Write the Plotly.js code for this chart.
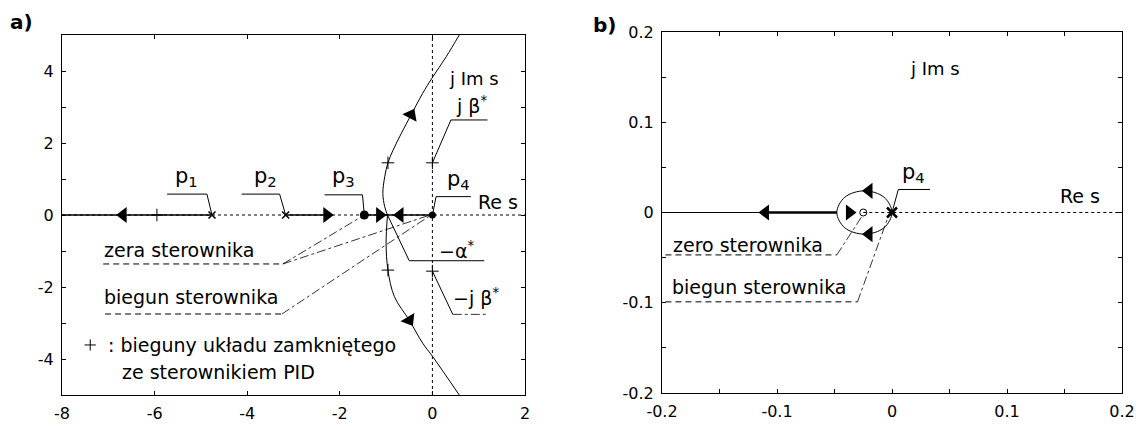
<!DOCTYPE html>
<html><head><meta charset="utf-8">
<script src="https://cdn.plot.ly/plotly-3.0.1.min.js"></script>
<style>html,body{margin:0;padding:0;background:#fff}#chart{width:1140px;height:426px}</style>
</head><body><div id="chart"></div>
<script>
// ---------- Panel a) data (read from picture) ----------
const axisA_x = [-8, 2];
const locusA_seg1_x = [-8, -4.76];
const locusA_seg2_x = [-3.17, -2.2];
const locusA_seg3_x = [-1.47, 0];
const upper_x = [-0.97, -1.03, -1.07, -1.03, -0.96, -0.85, -0.67, -0.46, -0.21, -0.01, 0.30, 0.58];
const upper_y = [0, 0.23, 0.6, 1.06, 1.45, 1.8, 2.27, 2.78, 3.38, 3.8, 4.4, 5.0];
const lower_x = [-0.97, -1.0, -0.96, -0.82, -0.5, -0.21, 0.01, 0.58];
const lower_y = [0, -0.79, -1.53, -2.27, -2.92, -3.56, -3.94, -5.0];
const openPolesA_x = [-4.76, -3.17];          // p1, p2
const p3_x = [-1.47];
const p4A_x = [0];
const clPoles_x = [-5.95, -0.96, -0.96, 0, 0];  // closed-loop poles (+)
const clPoles_y = [0, 1.45, -1.53, 1.45, -1.56];
const arrowsRealA_x = [-6.68, -2.28, -1.14, -0.70];
const arrowsRealA_sym = ['triangle-left', 'triangle-right', 'triangle-right', 'triangle-left'];
const arrowsCurveA_x = [-0.46, -0.50];
const arrowsCurveA_y = [2.78, -2.92];
const arrowsCurveA_sym = ['triangle-up', 'triangle-down'];
const arrowsCurveA_ang = [28, -31];
// leaders (panel a)
const leadSolidA_x = [-5.73, -4.87, -4.76, null, -4.12, -3.3, -3.17, null, -2.33, -1.51, -1.47, null,
                      0, 0.08, 0.83, null, 0, 0.40, 1.19, null, -0.97, -0.5, 1.12, null, 0, 0.44];
const leadSolidA_y = [0.58, 0.58, 0, null, 0.58, 0.58, 0, null, 0.56, 0.56, 0, null,
                      0, 0.51, 0.51, null, 1.45, 2.64, 2.64, null, 0, -1.27, -1.27, null, -1.56, -2.76];
const leadDashA_x = [-7.11, -3.23, null, -7.07, -3.25];
const leadDashA_y = [-1.36, -1.36, null, -2.75, -2.75];
const leadDashDotA_x = [-3.23, -1.47, null, -3.23, -0.05, null, -3.25, -0.03, null, 0.44, 1.19];
const leadDashDotA_y = [-1.36, 0, null, -1.36, 0, null, -2.75, 0, null, -2.76, -2.76];
const legendPlusA_x = [-7.39];
const legendPlusA_y = [-3.61];

// ---------- Panel b) data ----------
const axisB_x = [-0.025, 0.2];
const locusB_thin_x = [-0.2, -0.048];
const locusB_thick_x = [-0.11, -0.048];
const circle_x = [0, -0.007, -0.024, -0.041, -0.048, -0.041, -0.024, -0.007, 0];
const circle_y = [0, 0.017, 0.024, 0.017, 0, -0.017, -0.024, -0.017, 0];
const zeroB_x = [-0.025];
const p4B_x = [0];
const arrowsB_x = [-0.11, -0.037, -0.02, -0.02];
const arrowsB_y = [0, 0, 0.024, -0.024];
const arrowsB_sym = ['triangle-left', 'triangle-right', 'triangle-left', 'triangle-left'];
const leadSolidB_x = [0, 0.0055, 0.033];
const leadSolidB_y = [0, 0.0255, 0.0255];
const leadDashB_x = [-0.197, -0.048, null, -0.197, -0.03];
const leadDashB_y = [-0.047, -0.047, null, -0.099, -0.099];
const leadDashDotB_x = [-0.048, -0.026, null, -0.03, -0.002];
const leadDashDotB_y = [-0.047, -0.004, null, -0.099, 0];

// tick labels
const tickA_x = [-8, -6, -4, -2, 0, 2];
const tickA_xt = ['-8', '-6', '-4', '-2', '0', '2'];
const tickA_y = [-4, -2, 0, 2, 4];
const tickA_yt = ['-4', '-2', '0', '2', '4'];
const minorA_y = [-3, -1, 1, 3];
const tickB = [-0.2, -0.1, 0, 0.1, 0.2];
const tickB_t = ['-0.2', '-0.1', '0', '0.1', '0.2'];
const minorB = [-0.15, -0.05, 0.05, 0.15];

const F = 'DejaVu Sans, sans-serif';
const K = '#000';
const zeros = a => a.map(() => 0);

const traces = [
  // panel a
  {x: axisA_x, y: [0, 0], mode: 'lines', line: {color: K, width: 1, dash: 'dot'}},
  {x: [0, 0], y: [-5, 5], mode: 'lines', line: {color: K, width: 1, dash: 'dot'}},
  {x: locusA_seg1_x, y: zeros(locusA_seg1_x), mode: 'lines', line: {color: K, width: 1.3}},
  {x: locusA_seg2_x, y: zeros(locusA_seg2_x), mode: 'lines', line: {color: K, width: 1.3}},
  {x: locusA_seg3_x, y: zeros(locusA_seg3_x), mode: 'lines', line: {color: K, width: 1.3}},
  {x: upper_x, y: upper_y, mode: 'lines', line: {color: K, width: 1, shape: 'spline'}},
  {x: lower_x, y: lower_y, mode: 'lines', line: {color: K, width: 1, shape: 'spline'}},
  {x: leadSolidA_x, y: leadSolidA_y, mode: 'lines', line: {color: K, width: 1}},
  {x: leadDashA_x, y: leadDashA_y, mode: 'lines', line: {color: K, width: 1, dash: '6px,4px'}},
  {x: leadDashDotA_x, y: leadDashDotA_y, mode: 'lines', line: {color: K, width: 0.8, dash: 'dashdot'}},
  {x: openPolesA_x, y: zeros(openPolesA_x), mode: 'markers', marker: {symbol: 'x-thin-open', size: 7, color: K, line: {color: K, width: 1.5}}},
  {x: p3_x, y: [0], mode: 'markers', marker: {symbol: 'circle', size: 9, color: K}},
  {x: p4A_x, y: [0], mode: 'markers', marker: {symbol: 'circle', size: 7, color: K}},
  {x: clPoles_x, y: clPoles_y, mode: 'markers', marker: {symbol: 'cross-thin-open', size: 9, color: K, line: {color: K, width: 1}}},
  {x: legendPlusA_x, y: legendPlusA_y, mode: 'markers', marker: {symbol: 'cross-thin-open', size: 8, color: K, line: {color: K, width: 1}}},
  {x: arrowsRealA_x, y: zeros(arrowsRealA_x), mode: 'markers', marker: {symbol: arrowsRealA_sym, size: 14, color: K}},
  {x: arrowsCurveA_x, y: arrowsCurveA_y, mode: 'markers', marker: {symbol: arrowsCurveA_sym, angle: arrowsCurveA_ang, size: 14, color: K}},
  // panel b
  {x: axisB_x, y: [0, 0], mode: 'lines', xaxis: 'x2', yaxis: 'y2', line: {color: K, width: 1, dash: 'dot'}},
  {x: locusB_thin_x, y: zeros(locusB_thin_x), mode: 'lines', xaxis: 'x2', yaxis: 'y2', line: {color: K, width: 1}},
  {x: locusB_thick_x, y: zeros(locusB_thick_x), mode: 'lines', xaxis: 'x2', yaxis: 'y2', line: {color: K, width: 2.5}},
  {x: circle_x, y: circle_y, mode: 'lines', xaxis: 'x2', yaxis: 'y2', line: {color: K, width: 1, shape: 'spline'}},
  {x: leadSolidB_x, y: leadSolidB_y, mode: 'lines', xaxis: 'x2', yaxis: 'y2', line: {color: K, width: 1}},
  {x: leadDashB_x, y: leadDashB_y, mode: 'lines', xaxis: 'x2', yaxis: 'y2', line: {color: K, width: 1, dash: '6px,4px'}},
  {x: leadDashDotB_x, y: leadDashDotB_y, mode: 'lines', xaxis: 'x2', yaxis: 'y2', line: {color: K, width: 0.8, dash: 'dashdot'}},
  {x: zeroB_x, y: [0], mode: 'markers', xaxis: 'x2', yaxis: 'y2', marker: {symbol: 'circle-open', size: 7, color: K, line: {color: K, width: 1}}},
  {x: p4B_x, y: [0], mode: 'markers', xaxis: 'x2', yaxis: 'y2', marker: {symbol: 'x-thin-open', size: 10, color: K, line: {color: K, width: 2.5}}},
  {x: arrowsB_x, y: arrowsB_y, mode: 'markers', xaxis: 'x2', yaxis: 'y2', marker: {symbol: arrowsB_sym, size: 14, color: K}}
];

const ax = (extra, minorVals) => Object.assign({
  showgrid: false, zeroline: false, showline: true, mirror: 'ticks', linecolor: K, linewidth: 1,
  ticks: 'inside', ticklen: 4, tickcolor: K, tickmode: 'array', tickfont: {family: F, size: 16, color: K},
  minor: minorVals ? {tickmode: 'array', tickvals: minorVals, ticks: 'inside', ticklen: 4, tickcolor: K, showgrid: false} : undefined
}, extra);

const ann = (text, x, y, xref, yref, opts) => Object.assign({
  text, x, y, xref, yref, showarrow: false, xanchor: 'left', yanchor: 'middle',
  font: {family: F, size: 19, color: K}
}, opts || {});

const PF = {family: F, size: 21, color: K};
const annotations = [
  ann('<b>a)</b>', 8 / 1140, 1 - 22 / 426, 'paper', 'paper', {font: {family: F, size: 20, color: K}}),
  ann('<b>b)</b>', 591 / 1140, 1 - 25 / 426, 'paper', 'paper', {font: {family: F, size: 20, color: K}}),
  // panel a
  ann('p<sub>1</sub>', -5.32, 1.05, 'x', 'y', {xanchor: 'center', font: PF}),
  ann('p<sub>2</sub>', -3.6, 1.05, 'x', 'y', {xanchor: 'center', font: PF}),
  ann('p<sub>3</sub>', -1.93, 1.05, 'x', 'y', {xanchor: 'center', font: PF}),
  ann('p<sub>4</sub>', 0.56, 0.98, 'x', 'y', {xanchor: 'center', font: PF}),
  ann('j Im s', 0.32, 3.78, 'x', 'y', {font: {family: F, size: 18, color: K}}),
  ann('j β<sup>*</sup>', 0.47, 3.05, 'x', 'y'),
  ann('Re s', 0.95, 0.36, 'x', 'y'),
  ann('−α<sup>*</sup>', 0.11, -0.97, 'x', 'y'),
  ann('−j β<sup>*</sup>', 0.41, -2.28, 'x', 'y'),
  ann('zera sterownika', -7.13, -0.97, 'x', 'y'),
  ann('biegun sterownika', -7.13, -2.28, 'x', 'y'),
  ann(': bieguny układu zamkniętego', -7.05, -3.61, 'x', 'y'),
  ann('ze sterownikiem PID', -6.75, -4.36, 'x', 'y'),
  // panel b
  ann('j Im s', 0.014, 0.16, 'x2', 'y2', {font: {family: F, size: 18, color: K}}),
  ann('Re s', 0.144, 0.018, 'x2', 'y2'),
  ann('p<sub>4</sub>', 0.019, 0.044, 'x2', 'y2', {xanchor: 'center', font: PF}),
  ann('zero sterownika', -0.192, -0.0355, 'x2', 'y2'),
  ann('biegun sterownika', -0.193, -0.082, 'x2', 'y2')
];

const layout = {
  width: 1140, height: 426, margin: {l: 0, r: 0, t: 0, b: 0},
  paper_bgcolor: '#fff', plot_bgcolor: '#fff', showlegend: false,
  xaxis: ax({domain: [62 / 1140, 525 / 1140], range: [-8, 2], tickvals: tickA_x, ticktext: tickA_xt, anchor: 'y', ticklabelstandoff: 4}),
  yaxis: ax({domain: [31 / 426, 391 / 426], range: [-5, 5], tickvals: tickA_y, ticktext: tickA_yt, anchor: 'x', ticklabelstandoff: 4}, minorA_y),
  xaxis2: ax({domain: [662 / 1140, 1122 / 1140], range: [-0.2, 0.2], tickvals: tickB, ticktext: tickB_t, anchor: 'y2', ticklabelstandoff: 4}, minorB),
  yaxis2: ax({domain: [33 / 426, 394 / 426], range: [-0.2, 0.2], tickvals: tickB, ticktext: tickB_t, anchor: 'x2', ticklabelstandoff: 4}, minorB),
  annotations
};

Plotly.newPlot('chart', traces, layout, {staticPlot: true, displayModeBar: false});
</script>
</body></html>
